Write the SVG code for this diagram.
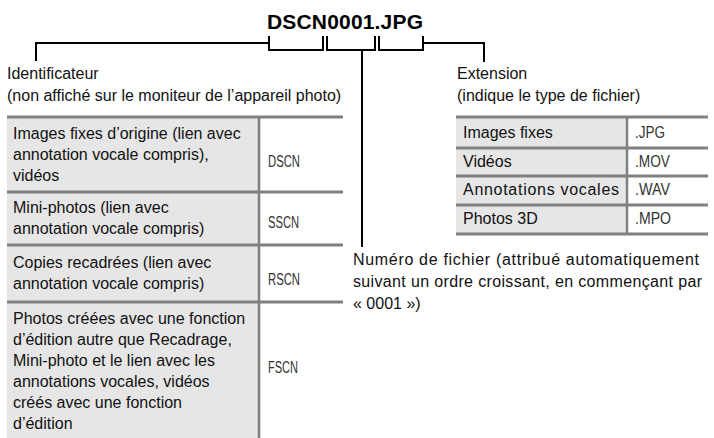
<svg xmlns="http://www.w3.org/2000/svg" width="714" height="438" viewBox="0 0 714 438">
<style>
text{font-family:"Liberation Sans",Arial,sans-serif;font-size:16px;fill:#111}
.title{font-weight:bold;font-size:21px;fill:#000}
.code{fill:#333;font-size:16px}
.grid{stroke:#808080;stroke-width:3;fill:none}
.vgrid{stroke:#808080;stroke-width:2.5;fill:none}
.cell{fill:#e6e6e6}
.conn{stroke:#000;stroke-width:2;fill:none}
</style>
<rect width="714" height="438" fill="#fff"/>
<g id="title"><text class="title" x="345" y="29" text-anchor="middle" textLength="156">DSCN0001.JPG</text></g>
<g id="connectors">
<path class="conn" d="M36,61 V43 H269"/>
<path class="conn" d="M269,36 V50 H323 V36"/>
<path class="conn" d="M327,36 V50 H375 V36"/>
<path class="conn" d="M362,50 V247"/>
<path class="conn" d="M379,36 V50 H423 V36"/>
<path class="conn" d="M423,43 H484 V62"/>
</g>
<g id="identificateur">
<text x="7" y="79">Identificateur</text>
<text x="7" y="101">(non affiché sur le moniteur de l’appareil photo)</text>
</g>
<g id="extension">
<text x="457" y="79">Extension</text>
<text x="457" y="101">(indique le type de fichier)</text>
</g>
<g id="numero">
<text x="353" y="265" textLength="346">Numéro de fichier (attribué automatiquement</text>
<text x="353" y="287" textLength="349">suivant un ordre croissant, en commençant par</text>
<text x="353" y="309">« 0001 »)</text>
</g>
<g id="table-identificateur">
<rect class="cell" x="7" y="117" width="252" height="321"/>
<path class="grid" d="M7,117 H343 M7,192 H343 M7,245 H343 M7,302 H343"/>
<path class="vgrid" d="M259,117 V438"/>
<text x="13" y="139">Images fixes d’origine (lien avec</text>
<text x="13" y="160">annotation vocale compris),</text>
<text x="13" y="181">vidéos</text>
<text class="code" x="268" y="167" textLength="32" lengthAdjust="spacingAndGlyphs">DSCN</text>
<text x="13" y="213">Mini-photos (lien avec</text>
<text x="13" y="234">annotation vocale compris)</text>
<text class="code" x="268" y="228" textLength="31" lengthAdjust="spacingAndGlyphs">SSCN</text>
<text x="13" y="268">Copies recadrées (lien avec</text>
<text x="13" y="289">annotation vocale compris)</text>
<text class="code" x="268" y="285" textLength="32" lengthAdjust="spacingAndGlyphs">RSCN</text>
<text x="13" y="324">Photos créées avec une fonction</text>
<text x="13" y="345">d’édition autre que Recadrage,</text>
<text x="13" y="366">Mini-photo et le lien avec les</text>
<text x="13" y="387">annotations vocales, vidéos</text>
<text x="13" y="408">créés avec une fonction</text>
<text x="13" y="429">d’édition</text>
<text class="code" x="268" y="373" textLength="30" lengthAdjust="spacingAndGlyphs">FSCN</text>
</g>
<g id="table-extension">
<rect class="cell" x="456" y="117" width="171" height="117"/>
<path class="grid" d="M456,117 H708 M456,148 H708 M456,176 H708 M456,205 H708 M456,234 H708"/>
<path class="vgrid" d="M627,117 V234"/>
<text x="463" y="138">Images fixes</text>
<text class="code" x="635" y="138" textLength="30" lengthAdjust="spacingAndGlyphs">.JPG</text>
<text x="463" y="167">Vidéos</text>
<text class="code" x="635" y="167" textLength="35" lengthAdjust="spacingAndGlyphs">.MOV</text>
<text x="463" y="195" textLength="156">Annotations vocales</text>
<text class="code" x="635" y="195" textLength="35" lengthAdjust="spacingAndGlyphs">.WAV</text>
<text x="463" y="224">Photos 3D</text>
<text class="code" x="635" y="224" textLength="36" lengthAdjust="spacingAndGlyphs">.MPO</text>
</g>
</svg>
